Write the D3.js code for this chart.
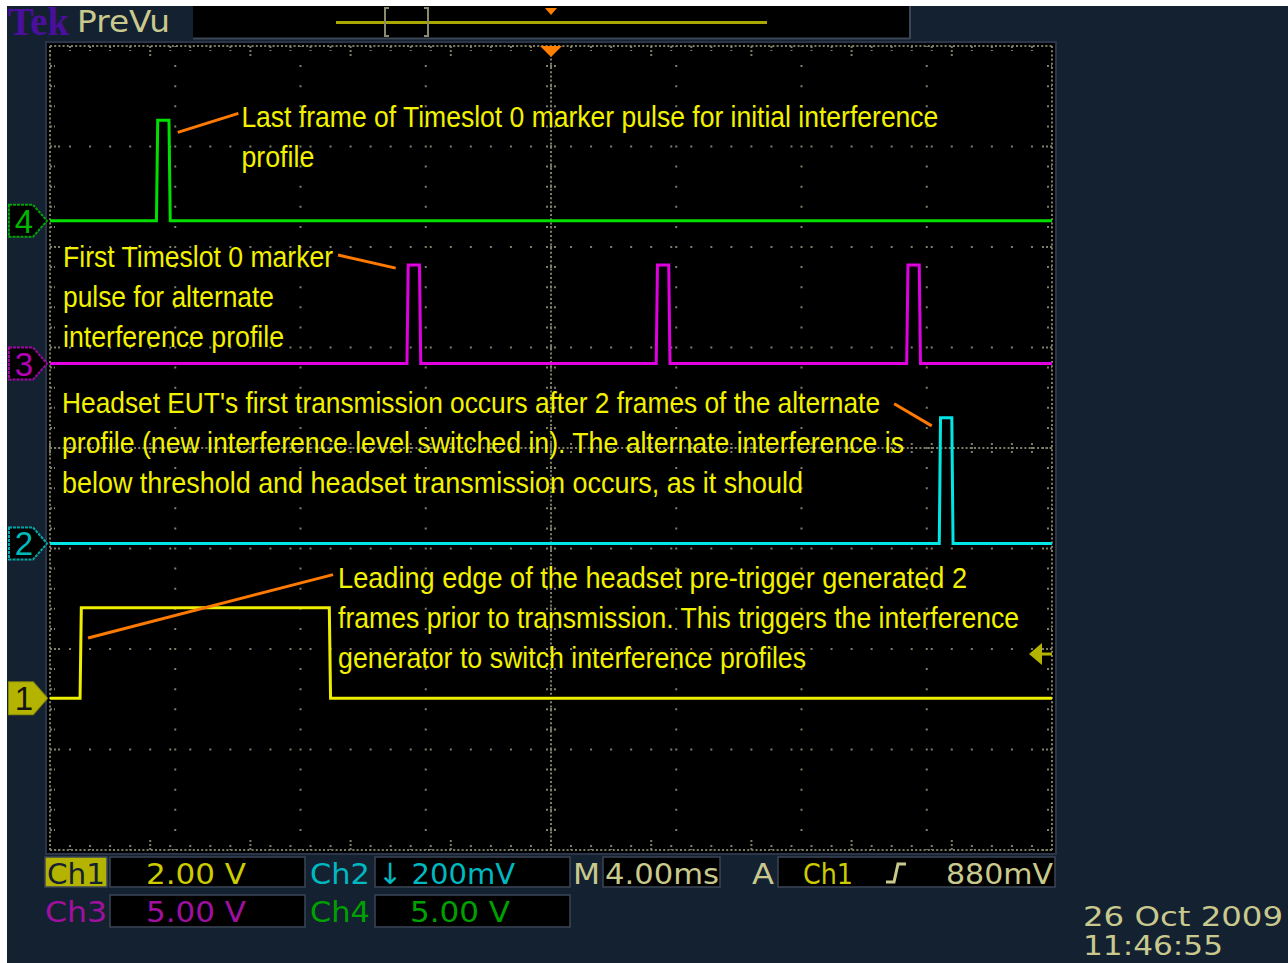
<!DOCTYPE html>
<html><head><meta charset="utf-8">
<script src="https://cdn.jsdelivr.net/npm/d3@7/dist/d3.min.js"></script>
<style>html,body{margin:0;padding:0;background:#fff;overflow:hidden}</style>
</head><body>
<svg id="c" width="1288" height="963"></svg>
<script>
// ---- data ----
const channels = ["Ch1", "Ch2", "Ch3", "Ch4"];
const channelColors = ["#eeee00", "#00e6e6", "#e000e0", "#00e000"];
const voltsPerDiv = [2.0, 0.2, 5.0, 5.0];
const groundDiv = [-2.49, -0.95, 0.84, 2.26];
// waveform vertices: time (ms), volts
const ch1Time = [0, 1.2, 1.25, 11.15, 11.2, 40];
const ch1Volt = [0, 0, 1.8, 1.8, 0, 0];
const ch2Time = [0, 35.5, 35.55, 36.0, 36.05, 40];
const ch2Volt = [0, 0, 0.25, 0.25, 0, 0];
const ch3Time = [0, 14.25, 14.3, 14.75, 14.8, 24.2, 24.25, 24.7, 24.75, 34.2, 34.25, 34.7, 34.75, 40];
const ch3Volt = [0, 0, 4.9, 4.9, 0, 0, 4.9, 4.9, 0, 0, 4.9, 4.9, 0, 0];
const ch4Time = [0, 4.25, 4.3, 4.75, 4.8, 40];
const ch4Volt = [0, 0, 5.0, 5.0, 0, 0];
const timePerDiv = 4.0; // ms
const triggerLevel = 0.88; // V on Ch1
const annotations = [
  ["Last frame of Timeslot 0 marker pulse for initial interference", "profile"],
  ["First Timeslot 0 marker", "pulse for alternate", "interference profile"],
  ["Headset EUT's first transmission occurs after 2 frames of the alternate",
   "profile (new interference level switched in). The alternate interference is",
   "below threshold and headset transmission occurs, as it should"],
  ["Leading edge of the headset pre-trigger generated 2",
   "frames prior to transmission. This triggers the interference",
   "generator to switch interference profiles"]
];
// annotation anchors in (time ms, div) and text widths
const annoPos = [[7.64, 3.19], [0.52, 1.80], [0.48, 0.35], [11.5, -1.39]];
const annoWidths = [[697, 73], [270, 211, 221], [818, 842, 741], [629, 681, 468]];
const pointerFrom = [[5.1, 3.14], [11.5, 1.92], [33.7, 0.44], [1.52, -1.89]];
const pointerTo = [[7.52, 3.33], [13.8, 1.79], [35.2, 0.22], [11.3, -1.26]];
const readRow1 = ["2.00 V", "↓ 200mV", "4.00ms", "880mV"];
const readRow2 = ["5.00 V", "5.00 V"];
const dateText = ["26 Oct  2009", "11:46:55"];

// ---- layout ----
const svg = d3.select("#c");
const W = 1288, H = 963;
const gx0 = 50, gx1 = 1052, gy0 = 46, gy1 = 850;
const x = d3.scaleLinear().domain([0, 10 * timePerDiv]).range([gx0, gx1]);
const y = d3.scaleLinear().domain([-4, 4]).range([gy1, gy0]);
const navy = "#142131", khaki = "#c9c98e", grat = "#7e7e68";

svg.append("rect").attr("width", W).attr("height", H).attr("fill", "#fff");
svg.append("rect").attr("x", 7).attr("y", 6).attr("width", W - 7).attr("height", H - 6).attr("fill", navy);

// header
svg.append("text").attr("x", 8).attr("y", 35).attr("font-family", "Liberation Serif").attr("font-weight", "bold")
  .attr("font-size", 40).attr("fill", "#4a0f9c").attr("textLength", 61).attr("lengthAdjust", "spacingAndGlyphs").text("Tek");
svg.append("text").attr("x", 77).attr("y", 32).attr("font-family", "DejaVu Sans").attr("font-size", 30)
  .attr("fill", khaki).attr("textLength", 93).attr("lengthAdjust", "spacingAndGlyphs").text("PreVu");
svg.append("rect").attr("x", 193).attr("y", 6).attr("width", 717).attr("height", 32).attr("fill", "#000");
svg.append("line").attr("x1", 193).attr("x2", 910).attr("y1", 38.5).attr("y2", 38.5).attr("stroke", "#3a4656").attr("stroke-width", 2);
svg.append("line").attr("x1", 910).attr("x2", 910).attr("y1", 6).attr("y2", 39).attr("stroke", "#3a4656").attr("stroke-width", 2);
svg.append("line").attr("x1", 336).attr("x2", 767).attr("y1", 22.5).attr("y2", 22.5).attr("stroke", "#a8a800").attr("stroke-width", 3);
svg.append("path").attr("d", "M389,8 H385 V36 H389 M424,8 H428 V36 H424").attr("fill", "none").attr("stroke", "#8a8a70").attr("stroke-width", 2);
svg.append("path").attr("d", "M545,8 L557,8 L551,15 Z").attr("fill", "#ff8000");

// graticule box
svg.append("rect").attr("x", 46).attr("y", 42).attr("width", 1010).attr("height", 812).attr("fill", "#000")
  .attr("stroke", "#2a3648").attr("stroke-width", 2);
const gg = svg.append("g");
const xt = x.ticks(10), yt = y.ticks(8);
// division lines
xt.forEach(t => {
  if (t === 0 || t === 40) return;
  gg.append("line").attr("x1", x(t)).attr("x2", x(t)).attr("y1", gy0).attr("y2", gy1)
    .attr("stroke", grat).attr("stroke-width", 2).attr("stroke-dasharray", "2,18.1").attr("stroke-dashoffset", 1);
});
yt.forEach(t => {
  if (t === -4 || t === 4) return;
  gg.append("line").attr("y1", y(t)).attr("y2", y(t)).attr("x1", gx0).attr("x2", gx1)
    .attr("stroke", grat).attr("stroke-width", 2).attr("stroke-dasharray", "2,18.04").attr("stroke-dashoffset", 1);
});
// center axes and border: dense dots + ticks
const dense = (x1, y1, x2, y2) => gg.append("line").attr("x1", x1).attr("y1", y1).attr("x2", x2).attr("y2", y2)
  .attr("stroke", grat).attr("stroke-width", 2).attr("stroke-dasharray", "2,2.2");
dense(gx0, y(0), gx1, y(0)); dense(x(20), gy0, x(20), gy1);
dense(gx0, gy0, gx1, gy0); dense(gx0, gy1, gx1, gy1); dense(gx0, gy0, gx0, gy1); dense(gx1, gy0, gx1, gy1);
const minorX = d3.range(0, 50).map(i => x(i * timePerDiv / 5));
const minorY = d3.range(0, 40).map(i => y(-4 + i / 5));
minorX.forEach((px, i) => {
  const big = i % 5 === 0 ? 10 : 5;
  [[gy0, gy0 + big], [gy1 - big, gy1], [y(0) - 5, y(0) + 5]].forEach(([a, b]) =>
    gg.append("line").attr("x1", px).attr("x2", px).attr("y1", a).attr("y2", b).attr("stroke", grat).attr("stroke-width", 2).attr("stroke-dasharray", "2,2"));
});
minorY.forEach((py, i) => {
  const big = i % 5 === 0 ? 10 : 5;
  [[gx0, gx0 + big], [gx1 - big, gx1], [x(20) - 5, x(20) + 5]].forEach(([a, b]) =>
    gg.append("line").attr("y1", py).attr("y2", py).attr("x1", a).attr("x2", b).attr("stroke", grat).attr("stroke-width", 2).attr("stroke-dasharray", "2,2"));
});
// trigger position marker
svg.append("path").attr("d", `M${x(20) - 11},46 L${x(20) + 11},46 L${x(20)},57 Z`).attr("fill", "#ff8000");

// traces
const waves = [[ch1Time, ch1Volt], [ch2Time, ch2Volt], [ch3Time, ch3Volt], [ch4Time, ch4Volt]];
const line = d3.line();
waves.forEach(([ts, vs], c) => {
  const pts = ts.map((t, i) => [x(t), y(groundDiv[c] + vs[i] / voltsPerDiv[c])]);
  svg.append("path").attr("d", line(pts)).attr("fill", "none").attr("stroke", channelColors[c])
    .attr("stroke-width", 3).attr("stroke-linejoin", "miter");
});

// channel ground markers
[3, 2, 1, 0].forEach(c => {
  const py = y(groundDiv[c]);
  const filled = c === 0;
  svg.append("path").attr("d", `M9,${py - 16} L33,${py - 16} L47,${py} L33,${py + 16} L9,${py + 16} Z`)
    .attr("fill", filled ? "#b4b400" : "#000").attr("stroke", filled ? "#b4b400" : channelColors[c])
    .attr("stroke-opacity", 0.7).attr("stroke-width", 2).attr("stroke-dasharray", filled ? null : "3,1");
  svg.append("text").attr("x", 24).attr("y", py + 12).attr("text-anchor", "middle").attr("font-family", "Liberation Sans")
    .attr("font-size", 33).attr("fill", filled ? "#141414" : d3.color(channelColors[c]).darker(0.6)).text(channels[c].slice(2));
});

// trigger level arrow (right)
const ty = y(groundDiv[0] + triggerLevel / voltsPerDiv[0]);
svg.append("path").attr("d", `M1029,${ty} L1042,${ty - 11} L1042,${ty + 11} Z`).attr("fill", "#b4b400");
svg.append("line").attr("x1", 1040).attr("x2", 1052).attr("y1", ty).attr("y2", ty).attr("stroke", "#b4b400").attr("stroke-width", 3);

// annotations
annotations.forEach((lines, a) => {
  lines.forEach((s, i) => {
    svg.append("text").attr("x", x(annoPos[a][0])).attr("y", y(annoPos[a][1]) + i * 40)
      .attr("font-family", "Liberation Sans").attr("font-size", 29).attr("fill", "#f2f200")
      .attr("textLength", annoWidths[a][i]).attr("lengthAdjust", "spacingAndGlyphs").text(s);
  });
  svg.append("line").attr("x1", x(pointerFrom[a][0])).attr("y1", y(pointerFrom[a][1]))
    .attr("x2", x(pointerTo[a][0])).attr("y2", y(pointerTo[a][1])).attr("stroke", "#ff7a00").attr("stroke-width", 3);
});

// readouts
const rf = "DejaVu Sans Condensed";
const box = (bx, by, bw, bh, fill) => svg.append("rect").attr("x", bx).attr("y", by).attr("width", bw).attr("height", bh)
  .attr("fill", fill).attr("stroke", "#3a4656").attr("stroke-width", 1.5);
const txt = (tx, ty2, s, col, anchor, w, fs) => {
  const t = svg.append("text").attr("x", tx).attr("y", ty2).attr("font-family", rf).attr("font-size", fs || 29)
    .attr("fill", col).attr("text-anchor", anchor || "start").text(s);
  if (w) t.attr("textLength", w).attr("lengthAdjust", "spacingAndGlyphs");
  return t;
};
box(45, 857, 62, 30, "#b4b400");
txt(47, 884, "Ch1", "#142131", "start", 58);
box(110, 857, 195, 30, "#000"); txt(146, 884, readRow1[0], "#cccc00", "start", 100);
txt(310, 884, "Ch2", "#00b8c0", "start", 60);
box(375, 857, 195, 30, "#000");
txt(378, 884, readRow1[1], "#00b8c0", "start", 137);
txt(573, 884, "M", khaki, "start", 27);
box(603, 857, 117, 30, "#000"); txt(605, 884, readRow1[2], khaki, "start", 114);
txt(752, 884, "A", khaki, "start", 22);
box(778, 857, 277, 30, "#000");
txt(803, 884, "Ch1", "#cccc00", "start", 50);
svg.append("path").attr("d", "M886,882 L894,882 L898,864 L906,864").attr("fill", "none").attr("stroke", khaki).attr("stroke-width", 3);
txt(946, 884, readRow1[3], khaki, "start", 107);
txt(45, 922, "Ch3", "#a010a0", "start", 62);
box(110, 895, 195, 32, "#000"); txt(146, 922, readRow2[0], "#a010a0", "start", 100);
txt(310, 922, "Ch4", "#00a000", "start", 60);
box(375, 895, 195, 32, "#000"); txt(410, 922, readRow2[1], "#00a000", "start", 100);
txt(1083, 926, dateText[0], khaki, "start", 200, 27);
txt(1083, 955, dateText[1], khaki, "start", 140, 26);
</script>
</body></html>
